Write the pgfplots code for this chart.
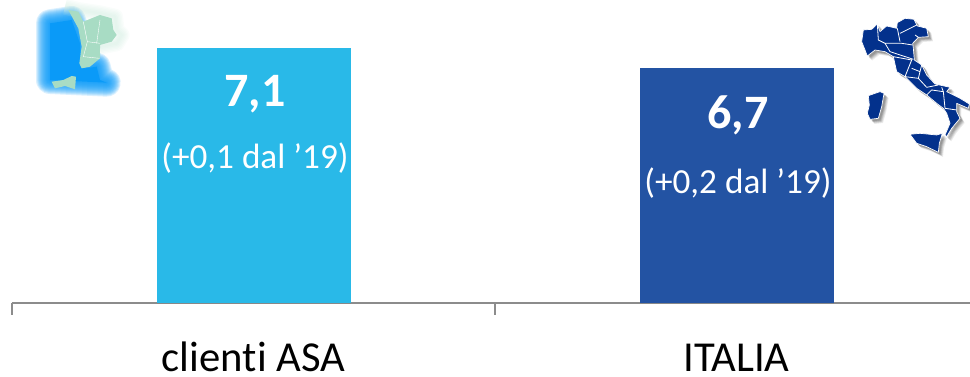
\documentclass[border=0pt]{standalone}
\usepackage{pgfplots}
\pgfplotsset{compat=1.18}
\usepackage{fontspec}
\setmainfont[Ligatures=NoCommon]{Carlito}
\usetikzlibrary{shadows}
\definecolor{barASA}{HTML}{29B9E8}
\definecolor{barITA}{HTML}{2353A3}
\definecolor{axisgray}{HTML}{8C8C8C}
\definecolor{mapblue}{HTML}{03318C}
\definecolor{seablue}{HTML}{0A9AF8}
\definecolor{landgreen}{HTML}{A8DCC4}
\begin{document}
\begin{tikzpicture}[x=0.75pt,y=0.75pt]
\path[use as bounding box] (0,0) rectangle (970,377);

% Tuscan coast emblem, top left
\begin{scope}[shift={(0,377)},x=0.25pt,y=-0.25pt,line join=round]
  \def\sea{(150,70) -- (215,60) -- (240,130) -- (240,190) -- (255,205) -- (290,200) -- (300,240) -- (320,248) -- (150,240) -- cycle}
  \foreach \w in {84,78,...,6}{
    \draw[seablue,line width=\w*0.25pt,opacity=0.15] \sea;
  }
  \fill[seablue] \sea;
  \foreach \w in {48,40,32,24,16,8}{
    \draw[landgreen!60!white,line width=\w*0.25pt,opacity=0.10] (195,20) -- (235,30) -- (300,40) -- (345,50) -- (350,90) -- (365,105) -- (350,130) -- (300,140);
  }
  \fill[landgreen] (205,30) -- (235,35) -- (250,65) -- (300,45) -- (335,55) -- (340,90) -- (350,105) -- (335,125) -- (300,135) -- (300,175) -- (270,200) -- (245,205) -- (238,190) -- (245,140) -- (235,85) -- cycle;
  \draw[white,line width=0.3pt] (250,65) -- (262,125) -- (300,130) (262,125) -- (250,170) -- (298,175) (300,60) -- (290,130);
  \fill[landgreen] (155,245) -- (190,240) -- (215,228) -- (228,230) -- (225,268) -- (195,258) -- (165,265) -- cycle;
\end{scope}

% Map of Italy, top right
\begin{scope}[shift={(780,377)},x=0.25pt,y=-0.25pt,line join=round]
  \def\mainland{(250,90) -- (275,88) -- (292,72) -- (300,95) -- (320,78) -- (350,85) -- (352,68) -- (375,55) -- (402,58) -- (412,78) -- (440,85) -- (445,110) -- (415,112) -- (398,130) -- (400,145) -- (403,180) -- (425,195) -- (440,225) -- (465,252) -- (510,262) -- (500,275) -- (540,295) -- (568,312) -- (565,325) -- (530,310) -- (530,335) -- (540,355) -- (515,385) -- (500,410) -- (495,405) -- (510,370) -- (500,340) -- (490,325) -- (470,310) -- (440,285) -- (410,265) -- (375,230) -- (350,215) -- (340,170) -- (315,155) -- (285,150) -- (262,168) -- (255,150) -- (245,125) -- cycle}
  \def\sardinia{(265,287) -- (300,275) -- (312,280) -- (305,320) -- (295,355) -- (270,358) -- (262,340) -- (268,315) -- cycle}
  \def\sicily{(390,403) -- (420,400) -- (470,405) -- (487,400) -- (478,430) -- (475,457) -- (440,440) -- (410,430) -- cycle}
  \foreach \d/\o in {14/0.07,12/0.08,10/0.10,8/0.12,6/0.12}{
    \begin{scope}[shift={(\d,\d)}]
      \fill[black,opacity=\o] \mainland;
      \fill[black,opacity=\o] \sardinia;
      \fill[black,opacity=\o] \sicily;
    \end{scope}
  }
  \fill[mapblue,draw=white,line width=0.5pt] \mainland;
  \fill[mapblue,draw=white,line width=0.5pt] \sardinia;
  \fill[mapblue,draw=white,line width=0.5pt] \sicily;
  \draw[white,line width=0.6pt]
    (292,72) -- (295,120) -- (315,130) -- (330,155) -- (400,178)
    (315,130) -- (365,130) -- (398,135)
    (352,85) -- (360,125)
    (360,100) -- (410,75)
    (405,105) -- (415,112)
    (340,170) -- (395,180) -- (375,230) -- (415,235) -- (425,195)
    (395,205) -- (420,215)
    (415,235) -- (440,262) -- (475,255)
    (440,285) -- (455,270) -- (490,275) -- (485,262)
    (490,275) -- (495,325) -- (530,330);
\end{scope}

\begin{axis}[
  at={(9pt,55.5pt)},anchor=south west,
  scale only axis,
  width=724.5pt,height=206.25pt,
  xmin=-0.5,xmax=1.5,ymin=2,ymax=7.5,
  axis x line=bottom,axis y line=none,
  axis line style={draw=axisgray,line width=1.5pt,-},
  xtick={0,1},
  xticklabels={clienti ASA,ITALIA},
  major tick length=0pt,
  xticklabel style={font=\fontsize{32}{32}\selectfont,text=black,anchor=base,inner sep=0pt,yshift=-51.5pt},
  extra x ticks={-0.5,0.5,1.5},
  extra x tick labels={},
  extra x tick style={major tick length=9pt,tick style={draw=axisgray,line width=1.1pt},tick align=outside},
  ybar,bar width=145.5pt,
  clip=false,
]
\addplot[bar shift=0pt,fill=barASA,draw=none,
  drop shadow={shadow xshift=0.4pt,shadow yshift=-0.6pt,opacity=0.25}]
  coordinates {(0,7.1)};
\addplot[bar shift=0pt,fill=barITA,draw=none,
  drop shadow={shadow xshift=0.4pt,shadow yshift=-0.6pt,opacity=0.25}]
  coordinates {(1,6.7)};
\node[text=white,font=\bfseries\fontsize{36}{36}\selectfont] at (axis cs:0.003,6.17) {7,1};
\node[text=white,font=\fontsize{26.4}{26.4}\selectfont] at (axis cs:0.003,4.9) {(+0,1 dal ’19)};
\node[text=white,font=\bfseries\fontsize{36}{36}\selectfont] at (axis cs:1.003,5.75) {6,7};
\node[text=white,font=\fontsize{26.4}{26.4}\selectfont] at (axis cs:1.003,4.4) {(+0,2 dal ’19)};
\end{axis}
\end{tikzpicture}
\end{document}
